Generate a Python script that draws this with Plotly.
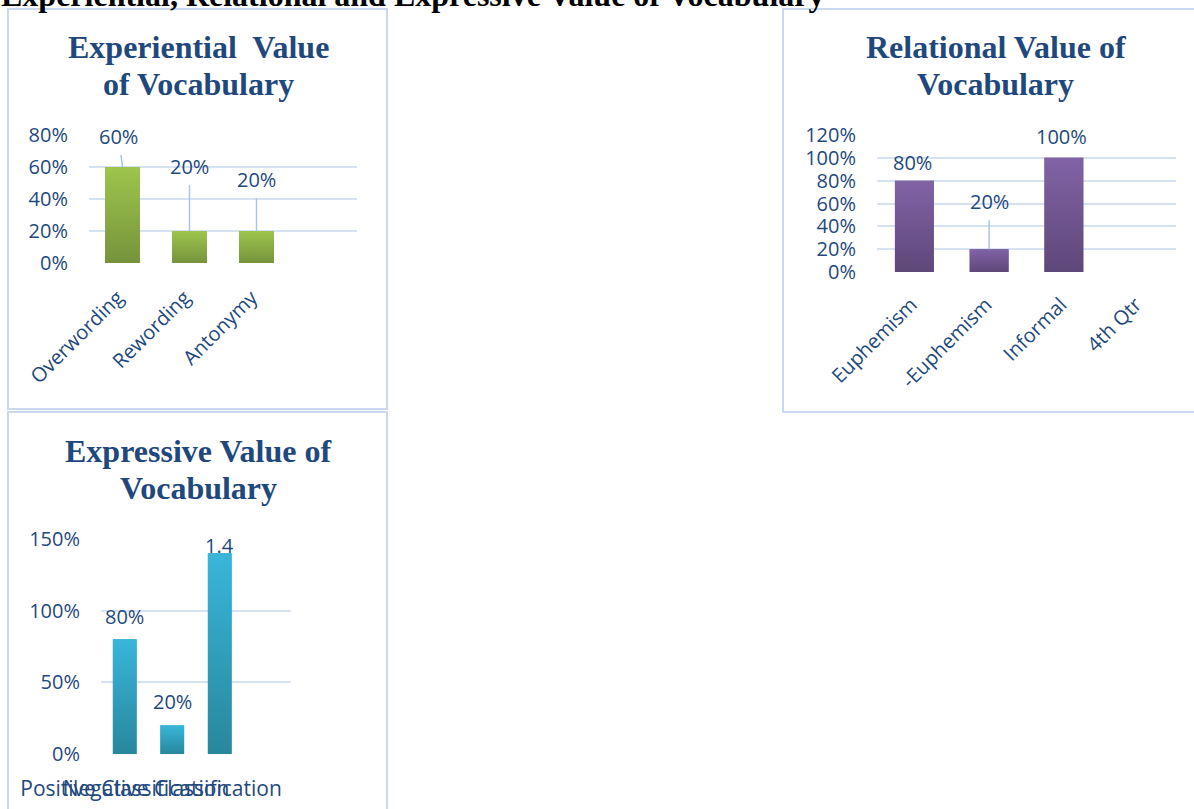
import plotly.graph_objects as go

# ---------------- data ----------------
exp_categories = ["Overwording", "Rewording", "Antonymy", ""]
exp_values = [0.60, 0.20, 0.20, None]
exp_labels = ["60%", "20%", "20%", ""]

rel_categories = ["Euphemism", "-Euphemism", "Informal", "4th Qtr"]
rel_values = [0.80, 0.20, 1.00, None]
rel_labels = ["80%", "20%", "100%", ""]

xpr_categories = ["Positive Classification", "Negative Classification", "", ""]
xpr_values = [0.80, 0.20, 1.40, None]
xpr_labels = ["80%", "20%", "1.4", ""]

exp_ticks = [0, 0.2, 0.4, 0.6, 0.8]
rel_ticks = [0, 0.2, 0.4, 0.6, 0.8, 1.0, 1.2]
xpr_ticks = [0, 0.5, 1.0, 1.5]

main_title = "Experiential, Relational and Expressive Value of Vocabulary"
exp_title = ["Experiential&nbsp; Value", "of Vocabulary"]
rel_title = ["Relational Value of", "Vocabulary"]
xpr_title = ["Expressive Value of", "Vocabulary"]

# ---------------- layout helpers ----------------
W, H = 1194, 809
def fx(p):
    return p / W
def fy(p):
    return 1 - p / H

TXT = "#1F497D"
GRID = "#D6E2F2"
BORDER = "#C9DAF0"
LEADER = "#A9C5EA"
FONT = "Open Sans"

fig = go.Figure()

def idx(lst):
    return list(range(len(lst)))

def add_bars(cats, vals, width, mid, bottom, top, xa, ya):
    fig.add_trace(go.Bar(x=idx(cats), y=vals, width=width,
                         marker=dict(color=mid, line=dict(width=0)),
                         xaxis=xa, yaxis=ya, showlegend=False, hoverinfo="skip"))
    # vertical gradient overlay for each bar, derived from the same values
    for i, v in enumerate(vals):
        if v is None:
            continue
        fig.add_trace(go.Scatter(
            x=[i - width / 2, i + width / 2, i + width / 2, i - width / 2, i - width / 2],
            y=[0, 0, v, v, 0], mode="none", fill="toself",
            fillgradient=dict(type="vertical", colorscale=[[0, bottom], [1, top]],
                              start=0, stop=v),
            xaxis=xa, yaxis=ya, showlegend=False, hoverinfo="skip"))

add_bars(exp_categories, exp_values, 0.52, "#8AAD45", "#76933C", "#9EC54C", "x", "y")
add_bars(rel_categories, rel_values, 0.52, "#70538E", "#5E4779", "#8163A6", "x2", "y2")
add_bars(xpr_categories, xpr_values, 0.5, "#30A1BD", "#28879D", "#38B6DA", "x3", "y3")

def tickfont(size=20):
    return dict(family=FONT, size=size, color=TXT)

def xaxis(domain, cats, angle, standoff, shift, anchor, size=20):
    return dict(domain=domain, range=[-0.5, len(cats) - 0.5],
                tickmode="array", tickvals=idx(cats), ticktext=cats,
                tickangle=angle, showgrid=False, zeroline=False, showline=False,
                ticks="", tickfont=tickfont(size), ticklabelstandoff=standoff,
                ticklabelshift=shift,
                anchor=anchor, fixedrange=True, automargin=False)

def yaxis(domain, rng, ticks, anchor):
    return dict(domain=domain, range=rng, tickmode="array", tickvals=ticks,
                tickformat=".0%", showgrid=True, gridcolor=GRID, gridwidth=2,
                zeroline=False, showline=False, ticks="", tickfont=tickfont(),
                ticklabelstandoff=20, anchor=anchor, fixedrange=True, automargin=False)

fig.update_layout(
    template="none",
    width=W, height=H, margin=dict(l=0, r=0, t=0, b=0, pad=0, autoexpand=False),
    paper_bgcolor="white", plot_bgcolor="rgba(0,0,0,0)",
    xaxis=xaxis([fx(89), fx(357)], exp_categories, -45, 18, -5, "y"),
    yaxis=yaxis([fy(263), fy(135)], [0, 0.8], exp_ticks, "x"),
    xaxis2=xaxis([fx(877), fx(1176)], rel_categories, -45, 16, -3, "y2"),
    yaxis2=yaxis([fy(272), fy(135)], [0, 1.2], rel_ticks, "x2"),
    xaxis3=xaxis([fx(101), fx(291)], xpr_categories, 0, 20, 0, "y3", size=21),
    yaxis3=yaxis([fy(754), fy(539)], [0, 1.5], xpr_ticks, "x3"),
)

# panel borders
for (x0, y0, x1, y1) in [(8, 9, 387, 409), (8, 412, 387, 830), (783, 9, 1210, 412)]:
    fig.add_shape(type="rect", xref="paper", yref="paper",
                  x0=fx(x0), x1=fx(x1), y0=fy(y1), y1=fy(y0),
                  line=dict(color=BORDER, width=2), fillcolor="rgba(0,0,0,0)", layer="below")

ann = []
lab_font = dict(family=FONT, size=20, color=TXT)
title_font = dict(family="Liberation Serif", size=32, color=TXT)

# main (cut-off) heading
ann.append(dict(text="<b>" + main_title + "</b>", xref="paper", yref="paper",
                x=fx(-1), y=fy(-5), xanchor="left", yanchor="middle", showarrow=False,
                font=dict(family="Liberation Serif", size=32, color="black")))

# chart titles (one annotation per line)
def add_title(lines, cx, base1, base2):
    for line, b in zip(lines, [base1, base2]):
        ann.append(dict(text="<b>" + line + "</b>", xref="paper", yref="paper",
                        x=fx(cx), y=fy(b - 11), xanchor="center", yanchor="middle",
                        showarrow=False, font=title_font))

add_title(exp_title, 198, 58, 95)
add_title(rel_title, 996, 58, 95)
add_title(xpr_title, 198, 462, 499)

# data labels (Experiential) with leader lines
exp_offsets = [(-4, -31), (0, -65), (0, -52)]
for i, (ax_, ay_) in enumerate(exp_offsets):
    ann.append(dict(text=exp_labels[i], x=i, y=exp_values[i], xref="x", yref="y",
                    showarrow=True, arrowhead=0, arrowwidth=1.5, arrowcolor=LEADER,
                    ax=ax_, ay=ay_, startstandoff=4, font=lab_font))

# Relational
ann.append(dict(text=rel_labels[0], x=0, y=rel_values[0], xref="x2", yref="y2",
                showarrow=False, yshift=18, xshift=-2, font=lab_font))
ann.append(dict(text=rel_labels[1], x=1, y=rel_values[1], xref="x2", yref="y2",
                showarrow=True, arrowhead=0, arrowwidth=1.5, arrowcolor=LEADER,
                ax=0, ay=-48, startstandoff=4, font=lab_font))
ann.append(dict(text=rel_labels[2], x=2, y=rel_values[2], xref="x2", yref="y2",
                showarrow=False, yshift=21, xshift=-2, font=lab_font))

# Expressive
for i, ys in enumerate([23, 24, 8]):
    ann.append(dict(text=xpr_labels[i], x=i, y=xpr_values[i], xref="x3", yref="y3",
                    showarrow=False, yshift=ys, font=lab_font))

fig.update_layout(annotations=ann)
fig.write_html("out.html", config={"displayModeBar": False},
               post_script="document.body.style.margin='0';document.body.style.overflow='hidden';")
